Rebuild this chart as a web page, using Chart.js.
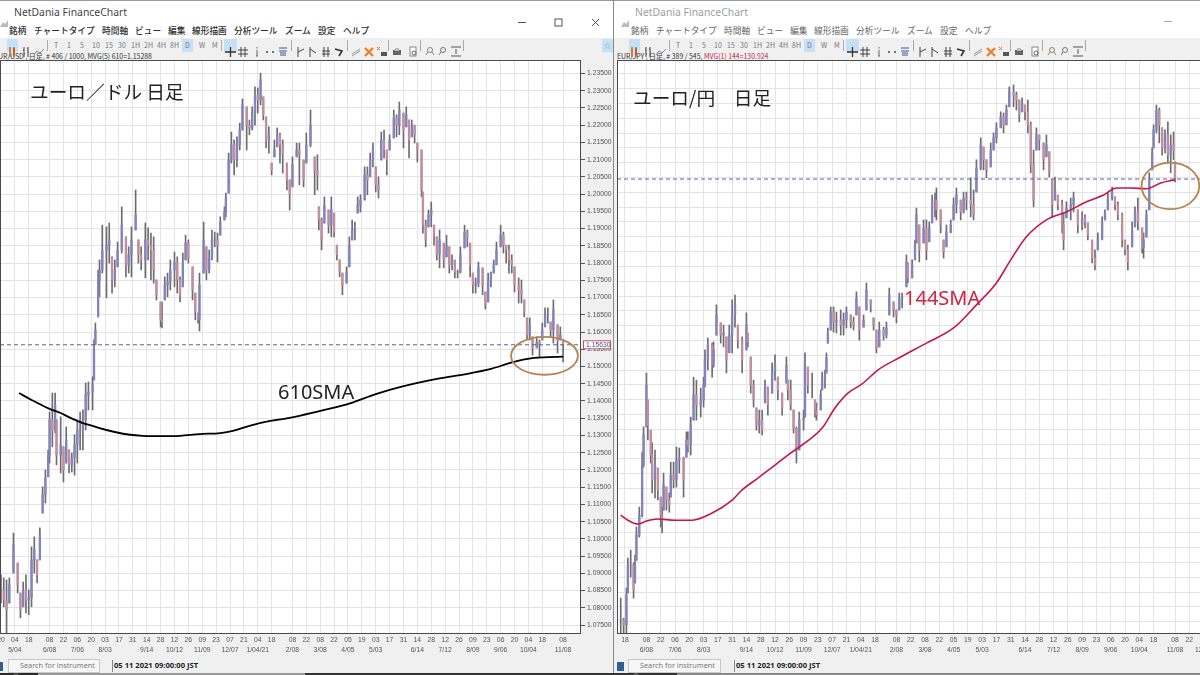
<!DOCTYPE html>
<html lang="ja">
<head>
<meta charset="utf-8">
<title>NetDania FinanceChart</title>
<script src="https://cdn.jsdelivr.net/npm/chart.js@4"></script>
<style>
html, body { margin: 0; padding: 0; width: 1200px; height: 675px; overflow: hidden; background: #fff; }
body { position: relative; font-family: "Noto Sans CJK JP", "Noto Sans", sans-serif; }
canvas { position: absolute; top: 60px; }
.txt { position: absolute; white-space: nowrap; line-height: 1; }
.box { position: absolute; }
</style>
</head>
<body>
<script>
// EUR/USD daily bars, day = trading days since 20 Apr 2020
const usdDays = [0,2,4,6,9,12,14,16,18,20,22,24,26,28,30,32,34,35,37,39,40,43,45,47,49,51,53,55,57,59,61,63,66,67,68,70,71,73,76,78,80,82,84,87,90,92,94,97,99,101,104,106,108,110,112,115,116,118,120,122,125,127,129,131,133,135,138,140,142,143,146,148,150,152,154,156,158,161,162,164,166,168,170,172,174,177,179,181,183,185,187,189,191,193,195,197,199,201,203,206,208,210,213,215,218,220,223,226,228,229,231,233,236,238,240,242,244,246,249,251,253,255,257,259,262,264,266,268,270,272,274,276,278,280,283,285,287,290,292,294,296,298,300,303,304,306,308,310,312,314,316,319,321,323,325,327,329,331,334,336,338,340,342,344,347,349,351,353,355,357,360,362,364,366,368,370,373,375,377,379,381,383,386,388,390,392,394,396,398,401,403,405];
const usdHighs = [1.0896,1.0887,1.0881,1.0887,1.1017,1.0930,1.0843,1.0875,1.0896,1.0852,1.0977,1.1006,1.0939,1.1032,1.1151,1.1200,1.1258,1.1368,1.1423,1.1423,1.1345,1.1354,1.1267,1.1325,1.1258,1.1249,1.1302,1.1345,1.1368,1.1374,1.1452,1.1455,1.1470,1.1577,1.1626,1.1780,1.1809,1.1910,1.1905,1.1916,1.1818,1.1809,1.1861,1.1963,1.1876,1.1847,1.1905,1.2012,1.1867,1.1847,1.1916,1.1902,1.1887,1.1876,1.1751,1.1687,1.1687,1.1760,1.1771,1.1809,1.1832,1.1818,1.1760,1.1829,1.1881,1.1867,1.1789,1.1713,1.1655,1.1771,1.1919,1.1847,1.1838,1.1896,1.1890,1.1887,1.1934,1.1963,1.2003,1.2119,1.2180,1.2157,1.2166,1.2206,1.2276,1.2253,1.2215,1.2253,1.2311,1.2308,1.2351,1.2282,1.2224,1.2195,1.2090,1.2157,1.2192,1.2177,1.2157,1.2090,1.2041,1.2108,1.2148,1.2148,1.2099,1.2177,1.2244,1.2108,1.2114,1.1963,1.1931,1.1992,1.1954,1.1992,1.1945,1.1852,1.1809,1.1771,1.1789,1.1876,1.1925,1.1919,1.1992,1.1998,1.2079,1.2079,1.2119,1.2148,1.2079,1.2050,1.2180,1.2186,1.2128,1.2172,1.2244,1.2230,1.2267,1.2235,1.2253,1.2215,1.2215,1.2200,1.2148,1.2128,1.2006,1.1925,1.1954,1.1977,1.1910,1.1876,1.1896,1.1858,1.1881,1.1847,1.1824,1.1809,1.1780,1.1847,1.1910,1.1896,1.1858,1.1771,1.1757,1.1803,1.1786,1.1716,1.1771,1.1774,1.1809,1.1861,1.1910,1.1890,1.1852,1.1852,1.1824,1.1789,1.1757,1.1751,1.1693,1.1641,1.1641,1.1586,1.1586,1.1577,1.1626,1.1670,1.1670,1.1629,1.1693,1.1621,1.1615,1.1577];
const usdLows = [1.0814,1.0803,1.0707,1.0814,1.0901,1.0843,1.0771,1.0803,1.0785,1.0780,1.0803,1.0901,1.0872,1.0939,1.1075,1.1104,1.1180,1.1220,1.1267,1.1307,1.1215,1.1191,1.1165,1.1220,1.1191,1.1194,1.1185,1.1220,1.1258,1.1258,1.1316,1.1374,1.1374,1.1461,1.1563,1.1644,1.1702,1.1771,1.1699,1.1800,1.1713,1.1731,1.1789,1.1829,1.1760,1.1771,1.1760,1.1896,1.1800,1.1780,1.1757,1.1809,1.1751,1.1742,1.1693,1.1615,1.1612,1.1693,1.1702,1.1722,1.1731,1.1713,1.1687,1.1731,1.1809,1.1800,1.1693,1.1635,1.1626,1.1603,1.1771,1.1751,1.1771,1.1809,1.1847,1.1803,1.1881,1.1925,1.1934,1.2003,1.2090,1.2056,1.2079,1.2128,1.2186,1.2128,1.2172,1.2186,1.2200,1.2235,1.2259,1.2215,1.2134,1.2119,1.2056,1.2108,1.2137,1.2090,1.2061,1.2012,1.1954,1.2021,1.2108,1.2027,1.2021,1.2090,1.2137,1.1998,1.2012,1.1896,1.1838,1.1916,1.1887,1.1876,1.1876,1.1809,1.1760,1.1708,1.1742,1.1789,1.1867,1.1867,1.1945,1.1948,1.1983,1.1998,1.2050,1.2079,1.2006,1.1989,1.2099,1.2105,1.2056,1.2128,1.2163,1.2166,1.2172,1.2134,1.2195,1.2105,1.2166,1.2148,1.2093,1.1992,1.1887,1.1847,1.1905,1.1905,1.1852,1.1809,1.1786,1.1786,1.1818,1.1771,1.1780,1.1757,1.1757,1.1771,1.1844,1.1847,1.1760,1.1713,1.1713,1.1731,1.1708,1.1667,1.1687,1.1731,1.1771,1.1795,1.1847,1.1829,1.1800,1.1771,1.1771,1.1716,1.1684,1.1684,1.1644,1.1577,1.1577,1.1533,1.1554,1.1528,1.1577,1.1615,1.1626,1.1586,1.1568,1.1539,1.1577,1.1513];
const usdCloses = [1.0852,1.0823,1.0794,1.0867,1.0983,1.0867,1.0794,1.0852,1.0823,1.0829,1.0939,1.0968,1.0896,1.1011,1.1128,1.1177,1.1243,1.1345,1.1316,1.1389,1.1243,1.1273,1.1200,1.1287,1.1215,1.1235,1.1273,1.1316,1.1316,1.1345,1.1418,1.1426,1.1447,1.1548,1.1606,1.1751,1.1780,1.1838,1.1852,1.1867,1.1751,1.1780,1.1838,1.1910,1.1795,1.1824,1.1867,1.1940,1.1824,1.1809,1.1867,1.1852,1.1838,1.1780,1.1708,1.1635,1.1629,1.1737,1.1745,1.1780,1.1803,1.1751,1.1708,1.1803,1.1858,1.1815,1.1722,1.1658,1.1635,1.1737,1.1867,1.1780,1.1815,1.1867,1.1867,1.1852,1.1919,1.1948,1.1989,1.2099,1.2143,1.2099,1.2143,1.2186,1.2259,1.2200,1.2192,1.2238,1.2287,1.2273,1.2331,1.2230,1.2157,1.2172,1.2070,1.2128,1.2172,1.2143,1.2114,1.2041,1.1998,1.2085,1.2128,1.2114,1.2041,1.2143,1.2200,1.2070,1.2056,1.1925,1.1867,1.1968,1.1910,1.1954,1.1890,1.1824,1.1774,1.1737,1.1774,1.1852,1.1896,1.1902,1.1968,1.1983,1.2056,1.2041,1.2099,1.2128,1.2027,1.2012,1.2157,1.2128,1.2099,1.2157,1.2221,1.2200,1.2244,1.2186,1.2230,1.2157,1.2200,1.2172,1.2128,1.2012,1.1910,1.1867,1.1940,1.1954,1.1881,1.1824,1.1867,1.1809,1.1852,1.1795,1.1809,1.1774,1.1774,1.1824,1.1890,1.1873,1.1795,1.1737,1.1742,1.1786,1.1737,1.1679,1.1751,1.1766,1.1795,1.1838,1.1881,1.1852,1.1838,1.1809,1.1795,1.1737,1.1722,1.1708,1.1658,1.1592,1.1620,1.1554,1.1571,1.1563,1.1606,1.1650,1.1650,1.1606,1.1664,1.1577,1.1592,1.1563];
const usdSmaDays = [13,22,35,43,50,59,66,71,82,93,102,115,129,143,158,167,179,194,205,215,233,252,270,288,314,335,353,369,384,394,405];
const usdSmaValues = [1.1423,1.1403,1.1377,1.1365,1.1351,1.1336,1.1328,1.1321,1.1310,1.1302,1.1299,1.1298,1.1299,1.1304,1.1307,1.1313,1.1328,1.1342,1.1349,1.1357,1.1374,1.1394,1.1420,1.1441,1.1464,1.1478,1.1493,1.1513,1.1525,1.1527,1.15288];
const usdLast = 1.1563;
const usdValueTicks = [1.075,1.08,1.085,1.09,1.095,1.1,1.105,1.11,1.115,1.12,1.125,1.13,1.135,1.14,1.145,1.15,1.155,1.16,1.165,1.17,1.175,1.18,1.185,1.19,1.195,1.2,1.205,1.21,1.215,1.22,1.225,1.23,1.235];
const usdTickDays = [0,10,20,35,45,55,65,75,85,95,105,115,125,135,145,155,165,175,185,195,210,220,230,240,250,260,270,280,290,300,310,320,330,340,350,360,370,380,390,405];
const usdTickTop = ["20","04","18","08","22","06","20","03","17","31","14","28","12","26","09","23","07","21","04","18","08","22","08","22","05","19","03","17","31","14","28","12","26","09","23","06","20","04","18","08"];
const usdTickBottom = ["","5/04","","6/08","","7/06","","8/03","","","9/14","","10/12","","11/09","","12/07","","1/04/21","","2/08","","3/08","","4/05","","5/03","","","6/14","","7/12","","8/09","","9/06","","10/04","","11/08"];

// EUR/JPY daily bars, day = trading days since 18 May 2020
const jpyDays = [-3,-1,1,2,4,6,7,8,10,12,13,15,16,18,19,21,23,25,26,27,29,31,32,34,36,38,41,43,44,46,48,50,53,55,56,58,61,62,64,67,69,71,73,75,77,79,82,85,86,88,90,92,94,96,98,100,103,105,107,110,113,114,116,118,120,122,125,126,128,131,133,134,137,138,140,141,142,144,146,148,151,153,155,158,160,162,164,167,169,172,174,176,178,181,183,185,188,190,192,194,197,198,201,203,204,206,209,211,213,215,217,218,221,223,225,228,230,232,235,237,239,242,244,246,249,251,253,256,258,260,263,265,267,269,272,274,276,278,280,282,284,286,288,290,293,295,297,299,301,303,306,307,309,312,314,317,320,322,324,327,329,331,334,336,338,341,343,345,348,350,352,355,357,359,362,363,365,367,369,370,372,374,376,378,380,382,384,385];
const jpyHighs = [116.80,116.12,117.14,118.15,118.42,117.98,118.25,119.20,119.87,121.73,122.58,124.40,123.49,122.47,122.04,121.80,121.19,120.21,119.87,121.02,120.55,120.35,121.39,121.39,121.90,121.87,121.56,122.41,122.41,122.91,124.26,124.16,123.89,124.26,125.18,125.58,125.41,125.45,126.70,126.09,126.02,125.62,126.02,126.87,127.03,126.02,125.62,126.43,125.75,124.94,124.16,123.22,123.15,123.15,124.16,123.93,124.74,125.01,124.26,123.72,124.94,124.16,124.16,123.15,122.58,123.08,123.15,125.08,124.60,124.40,123.49,123.39,123.83,124.43,124.50,125.08,125.92,126.63,126.63,126.46,126.53,126.43,126.63,126.36,126.29,127.14,126.63,126.36,127.44,126.87,126.26,125.85,126.12,125.95,126.12,127.27,126.80,126.53,127.10,127.10,128.39,128.12,128.22,128.89,129.97,129.40,129.57,129.57,129.50,130.41,130.48,130.65,129.91,128.89,129.40,129.57,130.31,130.65,130.24,130.51,130.51,130.99,130.58,131.60,132.34,132.03,131.60,132.17,132.51,132.85,133.22,133.18,133.45,134.06,134.13,133.89,133.62,133.69,133.45,133.62,132.88,131.93,132.68,132.44,132.17,132.44,131.87,130.92,131.02,130.41,130.24,129.80,130.18,130.31,130.51,129.91,129.84,129.74,129.47,128.89,128.56,129.13,129.67,129.91,130.48,130.68,130.35,130.18,129.80,128.89,128.72,129.50,130.01,130.31,129.30,129.13,129.91,131.16,132.00,132.78,133.45,133.35,132.68,132.61,132.88,132.44,132.54,131.53];
const jpyLows = [115.38,115.38,115.62,116.97,117.51,116.80,117.31,118.08,118.86,119.54,121.22,122.58,122.14,121.36,120.35,120.18,120.11,119.20,119.00,119.77,119.77,119.70,120.21,120.52,120.55,121.02,120.21,121.56,121.73,121.63,122.81,122.81,122.91,123.25,123.93,124.50,124.26,124.60,125.68,125.41,125.28,124.40,125.08,125.08,125.95,125.24,124.40,125.18,125.28,123.72,123.25,122.47,122.37,122.31,123.39,122.98,123.72,124.16,123.49,122.98,124.06,123.49,123.15,122.37,121.36,121.80,122.47,122.91,123.72,123.56,122.91,122.81,123.15,123.83,123.89,124.40,125.41,125.85,125.78,125.75,125.68,125.68,125.92,125.92,125.85,126.36,125.51,125.95,126.53,126.46,125.85,125.08,125.28,125.51,125.58,126.36,126.29,126.09,126.53,126.60,127.31,127.44,127.61,128.22,128.79,128.15,128.79,128.22,128.83,129.47,129.67,129.57,129.13,128.28,128.66,129.13,129.57,129.80,129.57,129.80,129.91,129.67,129.57,130.51,131.26,131.26,130.99,131.36,131.93,132.17,132.68,132.51,132.78,133.39,133.39,133.28,132.88,133.22,132.95,132.51,131.16,130.01,131.93,131.93,131.26,131.70,131.02,129.67,130.24,129.91,129.13,128.56,129.64,129.57,129.84,129.13,129.23,129.30,128.89,128.12,127.88,128.56,128.89,129.57,129.91,130.24,129.91,129.57,128.66,128.39,127.88,128.66,129.33,129.23,128.45,128.28,128.99,129.91,131.26,132.00,132.51,132.17,131.76,131.83,131.53,131.16,131.60,130.85];
const jpyCloses = [116.06,115.89,116.90,117.91,117.91,117.07,117.91,118.93,119.60,121.29,122.31,123.99,122.64,121.63,120.79,121.29,120.45,119.60,119.43,120.62,120.11,119.94,120.95,120.79,121.46,121.53,120.79,122.14,121.97,122.64,123.66,123.32,123.49,123.99,124.84,125.35,124.67,125.18,126.36,125.68,125.75,124.84,125.68,126.36,126.70,125.51,124.84,126.02,125.45,123.99,123.49,122.64,122.81,122.47,123.89,123.32,124.43,124.67,123.83,123.22,124.67,123.83,123.32,122.54,121.80,122.81,122.88,124.67,123.99,123.99,123.15,122.98,123.66,124.23,124.33,124.91,125.75,126.46,126.12,126.19,126.02,126.19,126.46,126.12,126.02,126.93,125.85,126.19,127.20,126.70,126.02,125.24,125.85,125.68,125.92,127.03,126.53,126.36,126.93,126.97,128.15,127.61,128.05,128.72,129.74,128.56,129.30,128.56,129.30,130.18,130.24,129.91,129.40,128.49,129.16,129.40,130.08,130.41,129.84,130.31,130.24,130.08,129.74,131.32,132.10,131.60,131.26,131.93,132.34,132.68,133.05,132.78,133.28,133.89,133.79,133.62,133.12,133.49,133.22,132.78,131.43,130.24,132.44,132.27,131.60,132.10,131.19,130.08,130.58,130.08,129.40,128.89,129.97,130.08,130.31,129.40,129.64,129.50,129.06,128.28,128.05,128.96,129.50,129.80,130.31,130.51,130.08,129.74,128.89,128.56,128.15,129.23,129.84,129.50,128.62,128.89,129.74,130.92,131.83,132.61,133.28,132.78,132.00,132.44,131.76,132.10,131.93,130.99];
const jpySmaDays = [-3,2,9,15,23,35,47,61,75,82,93,105,114,126,138,147,156,166,177,193,211,230,246,260,270,281,295,309,323,335,344,354,365,375,385];
const jpySmaValues = [119.60,119.43,119.30,119.40,119.47,119.43,119.43,119.67,120.11,120.45,120.85,121.29,121.63,122.04,122.54,123.22,123.72,124.03,124.50,124.94,125.41,125.92,126.70,127.44,128.22,129.00,129.57,129.84,130.18,130.41,130.65,130.65,130.62,130.82,130.924];
const jpyLast = 130.95;
const jpyValueTicks = [116,116.5,117,117.5,118,118.5,119,119.5,120,120.5,121,121.5,122,122.5,123,123.5,124,124.5,125,125.5,126,126.5,127,127.5,128,128.5,129,129.5,130,130.5,131,131.5,132,132.5,133,133.5,134,134.5];
const jpyTickDays = [0,15,25,35,45,55,65,75,85,95,105,115,125,135,145,155,165,175,190,200,210,220,230,240,250,260,270,280,290,300,310,320,330,340,350,360,370,385,395,405];
const jpyTickTop = ["18","08","22","06","20","03","17","31","14","28","12","26","09","23","07","21","04","18","08","22","08","22","05","19","03","17","31","14","28","12","26","09","23","06","20","04","18","08","22","06"];
const jpyTickBottom = ["","6/08","","7/06","","8/03","","","9/14","","10/12","","11/09","","12/07","","1/04/21","","2/08","","3/08","","4/05","","5/03","","","6/14","","7/12","","8/09","","9/06","","10/04","","11/08","","12/06"];

const UP_COLOR = '#8284bd';
const DOWN_COLOR = '#c08e9c';
const WICK_COLOR = '#6c6c72';
const GRID_COLOR = '#e4e4e6';
const FRAME_COLOR = '#4a4a4a';
const CIRCLE_COLOR = '#b5834f';
const LABEL_FONT = { family: '"Liberation Sans", sans-serif', size: 6.8, lineHeight: 1.35 };

// white plot background and the dark frame round it
const plotFrame = {
    id: 'plotFrame',
    beforeDraw(chart) {
        const a = chart.chartArea, c = chart.ctx;
        c.save();
        c.fillStyle = '#fff';
        c.fillRect(a.left, a.top, a.width, a.height);
        c.restore();
    },
    afterDraw(chart) {
        const a = chart.chartArea, c = chart.ctx;
        c.save();
        c.strokeStyle = FRAME_COLOR;
        c.lineWidth = 1;
        c.strokeRect(a.left + 0.5, a.top + 0.5, a.width - 1, a.height);
        c.restore();
    }
};

// hand drawn circle round the area where price meets the average
const circleNote = {
    id: 'circleNote',
    afterDatasetsDraw(chart, args, opts) {
        const c = chart.ctx, x = chart.scales.x, y = chart.scales.y;
        const cx = x.getPixelForValue(opts.day), cy = y.getPixelForValue(opts.value);
        const rx = Math.abs(x.getPixelForValue(opts.day + opts.days) - cx);
        const ry = Math.abs(y.getPixelForValue(opts.value + opts.height) - cy);
        c.save();
        c.strokeStyle = CIRCLE_COLOR;
        c.lineWidth = 1.8;
        c.beginPath();
        c.ellipse(cx, cy, rx, ry, 0, 0, Math.PI * 2);
        c.stroke();
        c.restore();
    }
};

// current price tag on the value axis
const lastPriceTag = {
    id: 'lastPriceTag',
    afterDraw(chart, args, opts) {
        if (!opts.text) return;
        const c = chart.ctx, a = chart.chartArea;
        const py = chart.scales.y.getPixelForValue(opts.value);
        c.save();
        c.fillStyle = '#fff';
        c.fillRect(a.right + 2, py - 4, 27, 8);
        c.strokeStyle = '#c0526a';
        c.lineWidth = 1;
        c.strokeRect(a.right + 2.5, py - 4, 27, 8);
        c.fillStyle = '#4a4a8c';
        c.font = '6.8px "Liberation Sans", sans-serif';
        c.textBaseline = 'middle';
        c.textAlign = 'left';
        c.fillText(opts.text, a.right + 5, py + 0.5);
        c.restore();
    }
};

function makeChart(cfg) {
    const canvas = document.createElement('canvas');
    canvas.width = cfg.width;
    canvas.height = 600;
    canvas.style.left = cfg.left + 'px';
    document.body.appendChild(canvas);

    const wicks = cfg.days.map((d, i) => ({ x: d, y: [cfg.lows[i], cfg.highs[i]] }));
    const bodies = cfg.days.map((d, i) => {
        const prev = i ? cfg.closes[i - 1] : cfg.closes[i];
        const open = Math.max(cfg.lows[i], Math.min(cfg.highs[i], prev));
        return { x: d, y: [open, cfg.closes[i]] };
    });

    new Chart(canvas, {
        type: 'bar',
        data: {
            datasets: [
                { data: wicks, barThickness: 1, backgroundColor: WICK_COLOR, order: 4, grouped: false },
                {
                    data: bodies,
                    barThickness: 1.7,
                    grouped: false,
                    order: 3,
                    backgroundColor: c => {
                        const v = c.raw.y;
                        return v[1] >= v[0] ? UP_COLOR : DOWN_COLOR;
                    }
                },
                {
                    type: 'line',
                    data: [{ x: cfg.xMin, y: cfg.last }, { x: cfg.xMax, y: cfg.last }],
                    borderColor: '#5a5aa0',
                    borderWidth: 1,
                    borderDash: [4, 3],
                    pointRadius: 0,
                    order: 2
                },
                {
                    type: 'line',
                    data: cfg.smaDays.map((d, i) => ({ x: d, y: cfg.smaValues[i] })),
                    borderColor: cfg.smaColor,
                    borderWidth: cfg.smaWidth,
                    cubicInterpolationMode: 'monotone',
                    pointRadius: 0,
                    order: 1
                }
            ]
        },
        plugins: [plotFrame, circleNote, lastPriceTag],
        options: {
            responsive: false,
            animation: false,
            events: [],
            layout: { padding: 0 },
            plugins: {
                legend: { display: false },
                tooltip: { enabled: false },
                circleNote: cfg.circle,
                lastPriceTag: { value: cfg.last, text: cfg.tag }
            },
            scales: {
                x: {
                    type: 'linear',
                    offset: false,
                    min: cfg.xMin,
                    max: cfg.xMax,
                    grid: { offset: false, color: GRID_COLOR, drawTicks: false },
                    border: { display: false },
                    afterBuildTicks: s => { s.ticks = cfg.tickDays.map(v => ({ value: v })); },
                    afterFit: s => { s.height = 27; s.paddingLeft = 0; s.paddingRight = 0; },
                    ticks: {
                        autoSkip: false,
                        maxRotation: 0,
                        padding: 3,
                        color: '#555',
                        font: LABEL_FONT,
                        callback: (v, i) => [cfg.tickTop[i], cfg.tickBottom[i]]
                    }
                },
                y: {
                    position: 'right',
                    min: cfg.yMin,
                    max: cfg.yMax,
                    grid: { color: GRID_COLOR, tickColor: '#555', tickLength: 4 },
                    border: { display: false },
                    afterBuildTicks: s => { s.ticks = cfg.valueTicks.map(v => ({ value: v })); },
                    afterFit: s => { s.width = cfg.axisWidth; s.paddingTop = 0; s.paddingBottom = 0; },
                    ticks: {
                        autoSkip: false,
                        padding: 2,
                        color: '#555',
                        font: LABEL_FONT,
                        callback: v => v.toFixed(cfg.digits)
                    }
                }
            }
        }
    });
}

// window chrome: labels and toolbar, placed by hand
function box(x, y, w, h, color) {
    const d = document.createElement('div');
    d.className = 'box';
    d.style.cssText = `left:${x}px;top:${y}px;width:${w}px;height:${h}px;background:${color}`;
    document.body.appendChild(d);
    return d;
}
function text(x, y, str, size, color, extra) {
    const s = document.createElement('span');
    s.className = 'txt';
    s.textContent = str;
    s.style.cssText = `left:${x}px;top:${y - size / 2}px;font-size:${size}px;color:${color};${extra || ''}`;
    document.body.appendChild(s);
    return s;
}
function icon(x, y, w, h, inner) {
    const d = document.createElement('div');
    d.className = 'box';
    d.style.cssText = `left:${x - w / 2}px;top:${y - h / 2}px;width:${w}px;height:${h}px;z-index:3`;
    d.innerHTML = `<svg width="${w}" height="${h}" viewBox="0 0 ${w} ${h}" xmlns="http://www.w3.org/2000/svg">${inner}</svg>`;
    document.body.appendChild(d);
}

const menuLabels = ['銘柄', 'チャートタイプ', '時間軸', 'ビュー', '編集', '線形描画', '分析ツール', 'ズーム', '設定', 'ヘルプ'];
const menuLeftX = [9, 34, 102, 135, 168, 192, 234, 285, 318, 343];
const toolLabels = ['T', '1', '5', '10', '15', '30', '1H', '2H', '4H', '8H', 'D', 'W', 'M'];
const toolLabelX = [56, 69, 82, 96, 109, 122, 135, 148, 161, 174, 187, 201, 214];
const toolSeparators = [47, 221, 291, 347, 388, 420, 463];

const ICONS = {
    candle: [12, '<path d="M2 1v10M6 1v10" stroke="#555" stroke-width="1"/><rect x="1" y="3" width="2" height="6" fill="#e8762c"/><rect x="5" y="2" width="2" height="7" fill="#d9531e"/>', 8],
    ohlc: [26, '<path d="M2 1v10M1 4h1M2 8h1M6 1v10M5 3h1M6 6h1" stroke="#444" stroke-width="1" fill="none"/>', 8],
    line: [39, '<path d="M0 9L3 5L6 7L10 3" stroke="#7a86a8" stroke-width="1" fill="none"/>', 10],
    cross: [230, '<path d="M0 6h11M5.5 1v10" stroke="#333" stroke-width="1.3"/>', 11],
    hash: [243, '<path d="M3 1v10M7 1v10M0 4h10M0 8h10" stroke="#444" stroke-width="1"/>', 10],
    info: [257, '<path d="M4 4v6M3 10h2M4 1v1.5" stroke="#666" stroke-width="1"/>', 8],
    span: [270, '<path d="M1 6h2M7 6h2" stroke="#444" stroke-width="1.5"/>', 10],
    vol: [283, '<path d="M1 2h8M1 5h8M2 7h6M2 9h6" stroke="#3f55a0" stroke-width="1"/>', 10],
    up: [300, '<path d="M3 1v10M3 6L9 3" stroke="#444" stroke-width="1" fill="none"/>', 10],
    down: [312, '<path d="M3 1v10M3 3L9 7" stroke="#444" stroke-width="1" fill="none"/>', 10],
    both: [326, '<path d="M3 1v10M7 1v10M1 5h8M1 8h8" stroke="#444" stroke-width="1"/>', 10],
    arrow: [339, '<path d="M1 3L8 5L5 10" stroke="#333" stroke-width="1.6" fill="none"/>', 10],
    lines: [356, '<path d="M1 8L9 3M1 10L9 5" stroke="#999" stroke-width="1"/>', 10],
    clear: [369, '<path d="M1 2L9 10M9 2L1 10" stroke="#ee7d22" stroke-width="2.2"/>', 10],
    clear2: [382, '<path d="M0 1L3 4M3 1L0 4" stroke="#e6702a" stroke-width="1"/><rect x="4" y="6" width="6" height="4" fill="#555"/>', 10],
    print: [397, '<rect x="1" y="4" width="8" height="5" fill="#666"/><rect x="3" y="2" width="4" height="3" fill="#bbb"/>', 10],
    preview: [413, '<rect x="2" y="1" width="6" height="9" fill="#fff" stroke="#888"/><circle cx="6" cy="7" r="2" fill="none" stroke="#666"/>', 10],
    zoomA: [430, '<circle cx="5" cy="4" r="2.5" fill="none" stroke="#a67a50"/><path d="M3 6L1 9M7 6L9 9" stroke="#888"/>', 10],
    zoomB: [443, '<circle cx="5" cy="4" r="2.5" fill="none" stroke="#777"/><path d="M3 6L1 9" stroke="#777"/>', 10],
    fit: [456, '<path d="M0 1h10M0 10h10M5 3v5" stroke="#555" stroke-width="1"/>', 10]
};

function drawWindowChrome(dx, active) {
    const ink = active ? '#2e2e2e' : '#666';
    const weight = active ? 'font-weight:500;' : '';
    menuLabels.forEach((m, i) => text(menuLeftX[i] + dx, 31, m, 8.7, ink, weight));

    box(dx + 7, 39, 11, 13, '#c6e0f6').style.zIndex = 2;
    box(dx + 182, 39, 11, 13, '#c6e0f6').style.zIndex = 2;
    box(dx + 224, 39, 13, 13, '#c6e0f6').style.zIndex = 2;
    toolLabels.forEach((t, i) => {
        text(toolLabelX[i] + dx - (t.length > 1 ? 4 : 2), 45.5, t, 7, '#777', 'z-index:3;');
    });
    toolSeparators.forEach(x => box(x + dx, 40, 1, 11, '#aaa'));
    Object.keys(ICONS).forEach(k => {
        const it = ICONS[k];
        icon(it[0] + dx, 45, it[2], 12, it[1]);
    });
}

// page background blocks
box(0, 0, 1200, 1, '#9a9a9a');
box(0, 38, 1200, 22, '#f0f0f0');
box(0, 633, 1200, 42, '#f0f0f0');
box(581, 60, 33, 573, '#f0f0f0');
box(613, 0, 1, 675, '#8a8a8a');
box(614, 60, 3, 573, '#f0f0f0');
box(0, 673, 38, 2, '#2a2a2a');
box(38, 673, 267, 2, '#999');
box(305, 673, 372, 2, '#333');
box(677, 673, 523, 2, '#888');

// titles and window buttons
text(14, 12.5, 'NetDania FinanceChart', 10.4, '#444', 'font-family:"Noto Sans"');
text(635, 12.5, 'NetDania FinanceChart', 10.4, '#9aa0a4', 'font-family:"Noto Sans"');
icon(4, 12, 8, 8, '<path d="M0 8L3 3L5 5L8 1V8Z" fill="#bbb"/>');
icon(625, 12, 8, 8, '<path d="M0 8L3 3L5 5L8 1V8Z" fill="#bbb"/>');
icon(522, 12, 9, 9, '<path d="M0 4.5h8" stroke="#555" stroke-width="1"/>');
icon(558, 12, 9, 9, '<rect x="1" y="1" width="7" height="7" fill="none" stroke="#555"/>');
icon(595, 12, 9, 9, '<path d="M1 1L8 8M8 1L1 8" stroke="#555"/>');
icon(1168, 11, 9, 9, '<path d="M0 4.5h8" stroke="#aaa" stroke-width="1"/>');

drawWindowChrome(0, true);
drawWindowChrome(622, false);
box(602, 39, 11, 13, '#c6e0f6');
text(604, 45.5, '☆', 7, '#8aa', '');

// info lines
text(-6, 56, 'EUR/USD , 日足, # 406 / 1000, MVG(5) 610=1.15288', 6.9, '#333');
const jpInfo = text(617, 56, 'EUR/JPY , 日足, # 389 / 545, ', 6.9, '#333');
const jpMvg = document.createElement('span');
jpMvg.textContent = 'MVG(1) 144=130.924';
jpMvg.style.color = '#c2274e';
jpInfo.appendChild(jpMvg);

// status rows
box(0, 662, 3, 9, '#2f5f92');
box(617, 662, 7, 9, '#2f5f92');
[[8, 92], [628, 93]].forEach(p => {
    const b = box(p[0], 659, p[1], 14, '#f7f7f7');
    b.style.border = '1px solid #c8c8c8';
    b.style.boxSizing = 'border-box';
    icon(p[0] + 7, 666, 8, 8, '<circle cx="5" cy="3" r="2.4" fill="none" stroke="#777"/><path d="M3 5L0 8" stroke="#777"/>');
    text(p[0] + 12, 666, 'Search for instrument', 7.3, '#777', 'font-family:"Noto Sans";');
});
box(112, 660, 1, 12, '#888');
box(734, 660, 1, 12, '#888');
text(114, 666, '05 11 2021 09:00:00 JST', 7.6, '#222', 'font-family:"Noto Sans";font-weight:700;');
text(736, 666, '05 11 2021 09:00:00 JST', 7.6, '#222', 'font-family:"Noto Sans";font-weight:700;');

makeChart({
    left: 0, width: 612, axisWidth: 31,
    days: usdDays, highs: usdHighs, lows: usdLows, closes: usdCloses,
    smaDays: usdSmaDays, smaValues: usdSmaValues, smaColor: '#000', smaWidth: 1.8,
    last: usdLast, tag: '1.15630',
    xMin: -0.72, xMax: 417.9, yMin: 1.0727, yMax: 1.2389,
    valueTicks: usdValueTicks, digits: 5,
    tickDays: usdTickDays, tickTop: usdTickTop, tickBottom: usdTickBottom,
    circle: { day: 391.6, value: 1.1531, days: 24.1, height: 0.0055 }
});
makeChart({
    left: 617, width: 660, axisWidth: 37,
    days: jpyDays, highs: jpyHighs, lows: jpyLows, closes: jpyCloses,
    smaDays: jpySmaDays, smaValues: jpySmaValues, smaColor: '#c4174a', smaWidth: 1.6,
    last: jpyLast, tag: '',
    xMin: -5.6, xMax: 430.5, yMin: 115.62, yMax: 134.97,
    valueTicks: jpyValueTicks, digits: 3,
    tickDays: jpyTickDays, tickTop: jpyTickTop, tickBottom: jpyTickBottom,
    circle: { day: 381.8, value: 130.72, days: 20.2, height: 0.787 }
});

// notes written over the charts
text(30, 91, 'ユーロ／ドル 日足', 18.7, '#222', 'z-index:5;');
text(633, 97, 'ユーロ/円　日足', 18.7, '#222', 'z-index:5;');
text(278, 392, '610SMA', 20, '#222', 'z-index:5;font-family:"Noto Sans";');
text(904, 298, '144SMA', 20, '#d4213f', 'z-index:5;font-family:"Noto Sans";');
</script>
</body>
</html>
